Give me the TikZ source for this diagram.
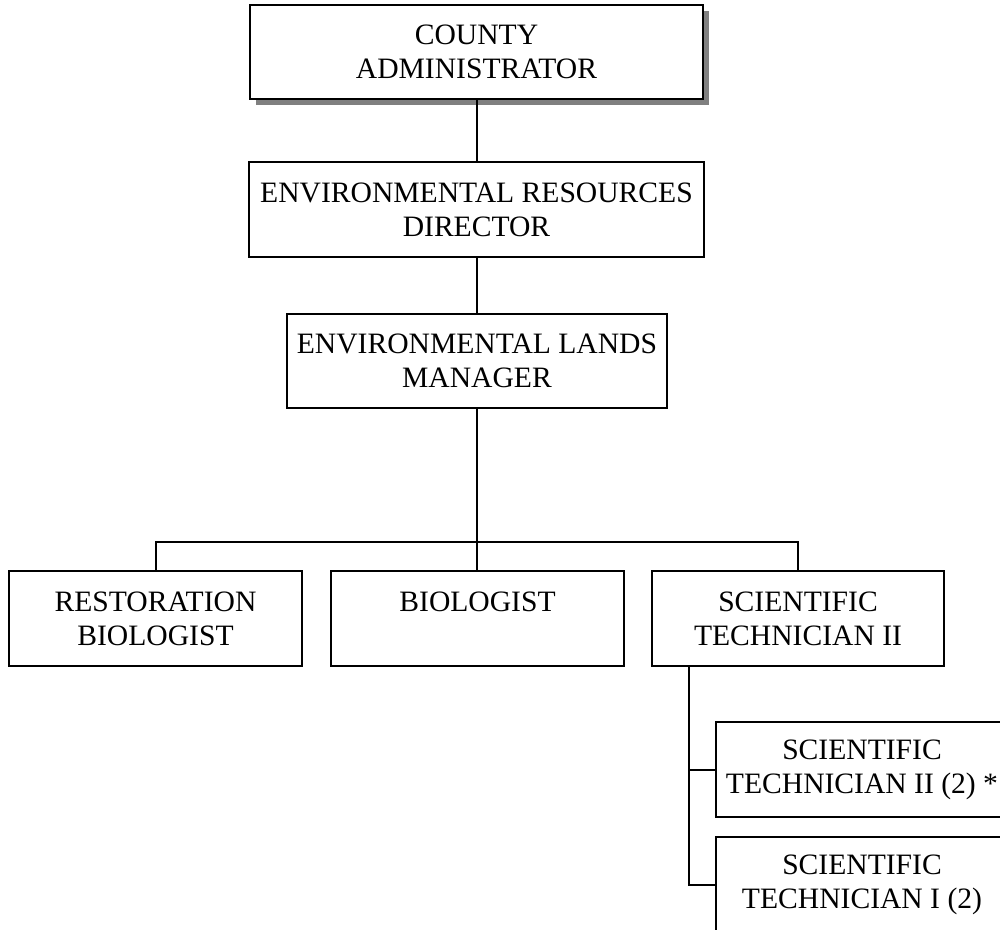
\documentclass[tikz,border=0pt]{standalone}
\usepackage{fontspec}
\setmainfont{Liberation Serif}
\usetikzlibrary{shadows}
\definecolor{shadowgray}{RGB}{128,128,128}
\begin{document}
\begin{tikzpicture}[x=0.5pt,y=-0.5pt,
  post/.style={draw=black, line width=1pt, fill=white, inner sep=0pt,
    align=center, font=\fontsize{14.8}{17}\selectfont},
  toppost/.style={post, general shadow={fill=shadowgray, shadow xshift=3pt, shadow yshift=-3pt}},
  wire/.style={draw=black, line width=1pt}]
  % page frame
  \clip (0,0) rectangle (1000,930);
  \fill[white] (0,0) rectangle (1000,930);

  % upper chain of command
  \node[toppost, minimum width=226.5pt, minimum height=47pt] (ca) at (476.5,52)
    {COUNTY\\ADMINISTRATOR};
  \node[post, minimum width=227.5pt, minimum height=47.5pt] (erd) at (476.5,209.5)
    {ENVIRONMENTAL RESOURCES\\DIRECTOR};
  \node[post, minimum width=190pt, minimum height=47pt] (elm) at (477,361)
    {ENVIRONMENTAL LANDS\\MANAGER};

  % staff row
  \node[post, minimum width=146.5pt, minimum height=47.5pt] (rb) at (155.5,618.5)
    {RESTORATION\\BIOLOGIST};
  \node[post, minimum width=146.5pt, minimum height=47.5pt] (bio) at (477.5,618.5)
    {BIOLOGIST\\\mbox{}};
  \node[post, minimum width=146pt, minimum height=47.5pt] (st) at (798,618.5)
    {SCIENTIFIC\\TECHNICIAN II};

  % technicians under the scientific technician
  \node[post, minimum width=146pt, minimum height=47.5pt] (st2) at (862,769.5)
    {SCIENTIFIC\\TECHNICIAN II (2) *};
  \node[post, minimum width=146pt, minimum height=47.5pt] (st1) at (862,884.5)
    {SCIENTIFIC\\TECHNICIAN I (2)};

  \coordinate (bus) at (0,542);
  \coordinate (trunk) at (689,0);

  % connectors
  \draw[wire] (ca.south) -- (ca.south |- erd.north);
  \draw[wire] (erd.south) -- (erd.south |- elm.north);
  \draw[wire] (elm.south) -- (elm.south |- bio.north);
  \draw[wire] (rb.north) -- (rb.north |- bus) -| (st.north);
  \draw[wire] (trunk |- st.south) |- (st2.west);
  \draw[wire] (trunk |- st.south) |- (st1.west);
\end{tikzpicture}
\end{document}
